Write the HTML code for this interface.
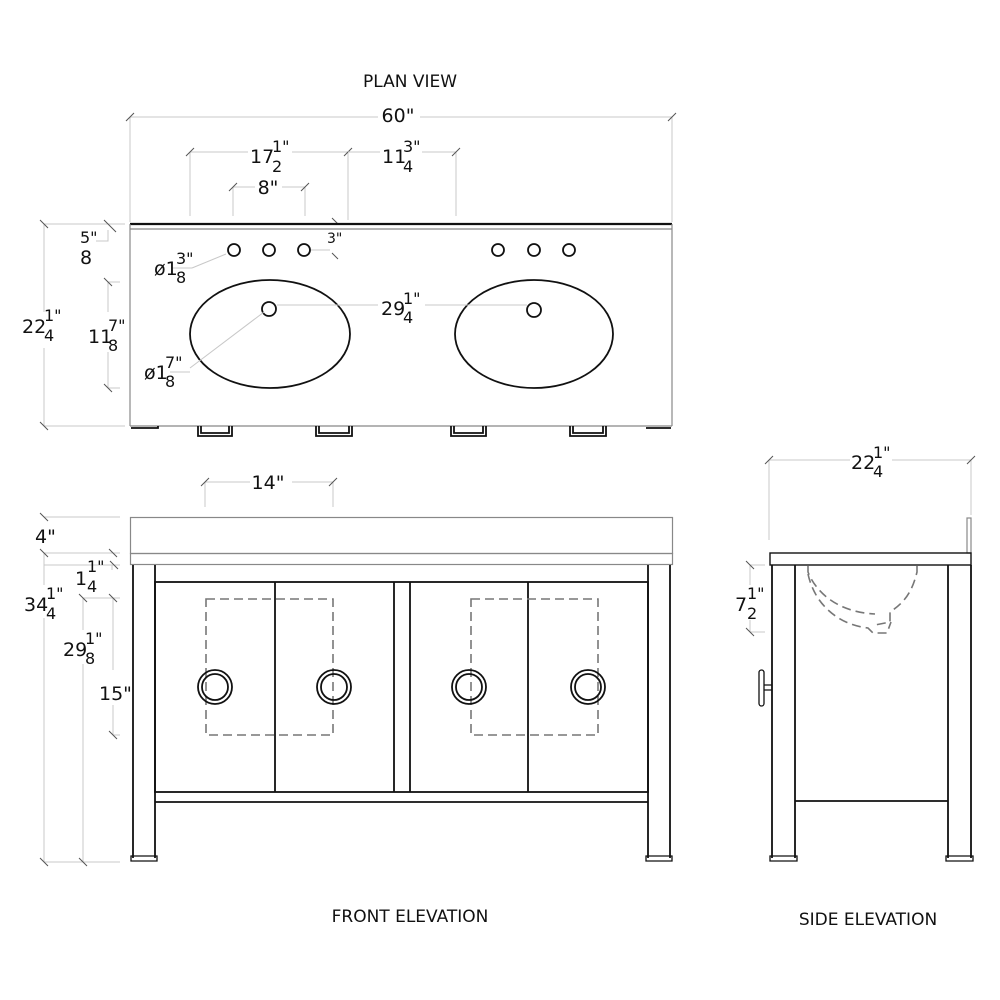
<!DOCTYPE html>
<html><head><meta charset="utf-8"><style>
html,body{margin:0;padding:0;background:#fff;}
svg{display:block;font-family:"DejaVu Sans","Liberation Sans",sans-serif;}
.d{stroke:#c8c8c8;stroke-width:1;fill:none}
.t{stroke:#555;stroke-width:1;fill:none}
.k{stroke:#111;stroke-width:1.8;fill:none}
.g{stroke:#888;stroke-width:1.2;fill:none}
.dash{stroke:#777;stroke-width:1.6;fill:none;stroke-dasharray:9 5}
text{fill:#111}
.L{font-size:17px}
.n{font-size:19px}
.f{font-size:16px}
</style></head><body>
<svg width="1000" height="1000" viewBox="0 0 1000 1000">
<!-- PLAN VIEW -->
<text x="410" y="87" class="L" text-anchor="middle">PLAN VIEW</text>
<path class="d" d="M130 117H378M420 117H672M130 117V222M672 117V222"/>
<path class="t" d="M126 121L134 113M668 121L676 113"/>
<text x="398" y="122" class="n" text-anchor="middle">60"</text>
<!-- 17 1/2 -->
<path class="d" d="M190 152H248M292 152H378M190 152V216M348 152V220"/>
<path class="t" d="M186 156L194 148M344 156L352 148"/>
<text x="250" y="163" class="n">17</text><text x="272" y="152" class="f">1"</text><text x="272" y="172" class="f">2</text>
<!-- 11 3/4 -->
<path class="d" d="M348 152H380M422 152H456M456 152V216"/>
<path class="t" d="M452 156L460 148"/>
<text x="382" y="163" class="n">11</text><text x="403" y="152" class="f">3"</text><text x="403" y="172" class="f">4</text>
<!-- 8 -->
<path class="d" d="M233 187H255M282 187H305M233 187V216M305 187V216"/>
<path class="t" d="M229 191L237 183M301 191L309 183"/>
<text x="268" y="194" class="n" text-anchor="middle">8"</text>
<!-- 3" -->
<text x="327" y="243" class="f" style="font-size:14px">3"</text>
<path class="d" d="M310 250H330"/><path class="t" d="M332 218L338 224M332 253L338 259"/>
<!-- counter top -->
<path d="M130 224H672" stroke="#111" stroke-width="2.2"/>
<path class="g" d="M130 229H672M130 224V426M672 224V426M130 426H672"/>
<g class="k" stroke-width="1.5"><circle cx="234" cy="250" r="6"/><circle cx="269" cy="250" r="6"/><circle cx="304" cy="250" r="6"/>
<circle cx="498" cy="250" r="6"/><circle cx="534" cy="250" r="6"/><circle cx="569" cy="250" r="6"/>
<ellipse cx="270" cy="334" rx="80" ry="54"/><ellipse cx="534" cy="334" rx="79" ry="54"/>
<circle cx="269" cy="309" r="7"/><circle cx="534" cy="310" r="7"/></g>
<!-- 29 1/4 -->
<path class="d" d="M277 305H378M425 305H527"/>
<text x="381" y="315" class="n">29</text><text x="403" y="304" class="f">1"</text><text x="403" y="323" class="f">4</text>
<!-- leaders -->
<path class="d" d="M192 268L226 254M190 368L264 312M172 268H192M170 372H190"/>
<text x="154" y="275" class="n">ø1</text><text x="176" y="264" class="f">3"</text><text x="176" y="283" class="f">8</text>
<text x="144" y="379" class="n">ø1</text><text x="165" y="368" class="f">7"</text><text x="165" y="387" class="f">8</text>
<!-- left dims -->
<path class="d" d="M44 224V312M44 348V426M44 224H125M44 426H125"/>
<path class="t" d="M40 220L48 228M40 422L48 430M104 220L112 228M108 224L116 232"/>
<text x="22" y="333" class="n">22</text><text x="44" y="321" class="f">1"</text><text x="44" y="341" class="f">4</text>
<path class="d" d="M108 230V241H96M108 282V312M108 352V388M108 282H120M108 388H120"/>
<path class="t" d="M104 278L112 286M104 384L112 392"/>
<text x="80" y="243" class="f">5"</text><text x="80" y="264" class="n">8</text>
<text x="88" y="343" class="n">11</text><text x="108" y="331" class="f">7"</text><text x="108" y="351" class="f">8</text>
<!-- feet -->
<g class="k" stroke-width="1.3">
<path d="M131 428H158V426"/><path d="M646 428H671"/>
<path d="M198 426V436H232V426M201 426V433H229V426"/>
<path d="M316 426V436H352V426M319 426V433H349V426"/>
<path d="M451 426V436H486V426M454 426V433H483V426"/>
<path d="M570 426V436H606V426M573 426V433H603V426"/>
</g>

<!-- FRONT ELEVATION -->
<path class="d" d="M205 482H250M292 482H333M205 482V507M333 482V507"/>
<path class="t" d="M201 486L209 478M329 486L337 478"/>
<text x="268" y="489" class="n" text-anchor="middle">14"</text>
<rect x="130.5" y="517.5" width="542" height="36" class="g"/>
<rect x="130.5" y="553.5" width="542" height="11" class="g"/>
<g class="k">
<path d="M133 565V858M155 565V858M648 565V858M670 565V858"/>
<rect x="155" y="582" width="493" height="210"/>
<path d="M275 582V792M394 582V792M410 582V792M528 582V792"/>
<path d="M155 802H648"/>
<path d="M131 861V856H157V861ZM646 861V856H672V861Z" stroke-width="1.3"/>
</g>
<g class="dash"><rect x="206" y="599" width="127" height="136"/><rect x="471" y="599" width="127" height="136"/></g>
<g class="k" stroke-width="1.4">
<circle cx="215" cy="687" r="17"/><circle cx="215" cy="687" r="13"/>
<circle cx="334" cy="687" r="17"/><circle cx="334" cy="687" r="13"/>
<circle cx="469" cy="687" r="17"/><circle cx="469" cy="687" r="13"/>
<circle cx="588" cy="687" r="17"/><circle cx="588" cy="687" r="13"/>
</g>
<path class="d" d="M44 517H120M44 553H120M44 565H120M44 553V585M44 618V862M44 862H120M83 598V630M83 664V862M83 598H120M113 598V670M113 705V735M113 735H120M112 565V570"/>
<path class="t" d="M40 513L48 521M40 549L48 557M40 858L48 866M79 594L87 602M79 858L87 866M109 594L117 602M109 731L117 739M109 549L117 557M110 561L118 569"/>
<text x="35" y="543" class="n">4"</text>
<text x="75" y="585" class="n">1</text><text x="87" y="572" class="f">1"</text><text x="87" y="592" class="f">4</text>
<text x="24" y="611" class="n">34</text><text x="46" y="599" class="f">1"</text><text x="46" y="619" class="f">4</text>
<text x="63" y="656" class="n">29</text><text x="85" y="644" class="f">1"</text><text x="85" y="664" class="f">8</text>
<text x="99" y="700" class="n">15"</text>
<text x="410" y="922" class="L" text-anchor="middle">FRONT ELEVATION</text>

<!-- SIDE ELEVATION -->
<path class="d" d="M769 460H850M892 460H971M769 460V540M971 460V515"/>
<path class="t" d="M765 464L773 456M967 464L975 456"/>
<text x="851" y="469" class="n">22</text><text x="873" y="458" class="f">1"</text><text x="873" y="477" class="f">4</text>
<rect x="967" y="518" width="4" height="35" class="g"/>
<g class="k">
<rect x="770" y="553" width="201" height="12" stroke-width="1.4"/>
<path d="M772 565V858M795 565V858M948 565V858M971 565V858M795 801H948"/>
<path d="M770 861V856H797V861ZM946 861V856H973V861Z" stroke-width="1.3"/>
<rect x="759" y="670" width="5" height="36" rx="2.5" stroke-width="1.3"/>
<path d="M764 685H772M764 690H772" stroke-width="1.3"/>
</g>
<path class="dash" stroke-dasharray="7 4" d="M808 566V572C815 590 835 612 875 614M917 566V572C912 592 905 602 890 612V622L875 625"/>
<path class="dash" stroke-dasharray="7 4" d="M808 574C815 606 840 625 868 628L873 633H887L891 622"/>
<path class="d" d="M750 565V585M750 620V632M750 565H765M750 632H765"/>
<path class="t" d="M746 561L754 569M746 628L754 636"/>
<text x="735" y="611" class="n">7</text><text x="747" y="599" class="f">1"</text><text x="747" y="619" class="f">2</text>
<text x="868" y="925" class="L" text-anchor="middle">SIDE ELEVATION</text>
</svg>
</body></html>
